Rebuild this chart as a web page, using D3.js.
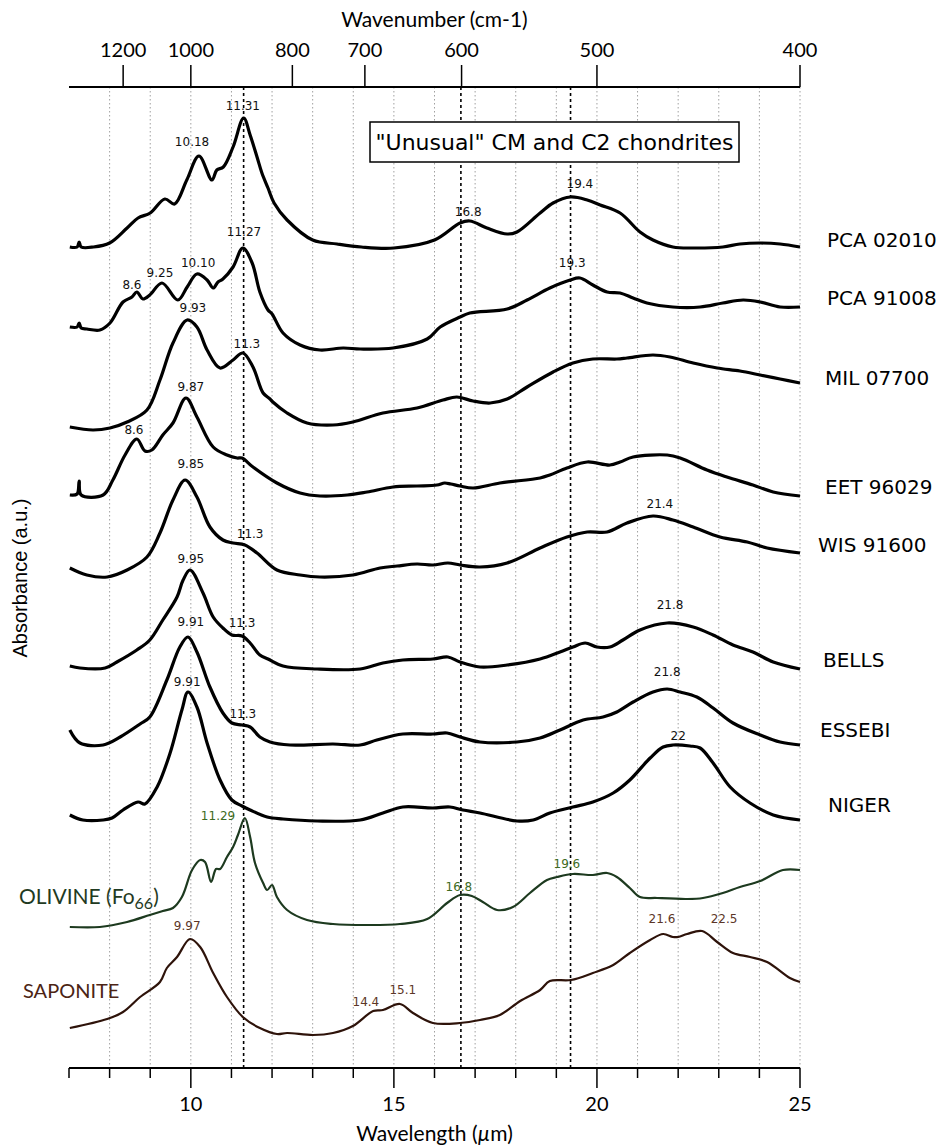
<!DOCTYPE html>
<html><head><meta charset="utf-8">
<script src="https://cdn.jsdelivr.net/npm/d3@7"></script>
<style>body{margin:0;background:#fff}</style>
</head><body>
<svg id="c" width="940" height="1148"></svg>
<script>
// ---- data: [wavelength (µm), absorbance (a.u., stacked with offsets)] ----
const pca02010 = [[7.02,82.1],[7.2,82.1],[7.25,82.6],[7.3,82.1],[7.6,82.1],[8.0,82.5],[8.43,84.0],[8.7,85.0],[9.0,85.5],[9.36,86.9],[9.6,86.4],[9.9,88.8],[10.2,91.2],[10.52,88.8],[10.64,89.8],[10.8,90.1],[11.04,92.1],[11.3,95.0],[11.46,93.3],[11.63,91.1],[11.75,89.5],[11.9,88.0],[12.05,86.5],[12.37,84.8],[13.0,82.8],[13.6,82.4],[14.2,82.1],[15.0,82.0],[16.0,82.8],[16.63,84.5],[16.87,84.7],[17.29,84.0],[17.79,83.4],[18.03,83.6],[18.6,85.5],[18.92,86.5],[19.35,87.1],[19.76,86.8],[20.08,86.3],[20.57,85.5],[21.06,83.6],[21.38,82.8],[21.87,82.1],[22.37,82.0],[23.1,82.1],[23.52,82.4],[24.02,82.5],[24.51,82.4],[25,82.1]];
const pca91008 = [[7.02,74.1],[7.2,74.1],[7.25,74.5],[7.3,74.0],[7.44,73.9],[7.76,73.8],[8.01,74.5],[8.33,76.6],[8.55,77.1],[8.67,77.6],[8.82,76.9],[8.99,77.3],[9.29,78.5],[9.68,76.8],[9.91,78.1],[10.15,79.4],[10.4,78.8],[10.55,78.0],[10.67,78.6],[10.79,78.9],[11.04,80.1],[11.28,82.0],[11.51,80.5],[11.7,77.6],[11.9,75.8],[12.0,75.4],[12.27,73.5],[12.69,72.3],[13.18,71.8],[13.75,72.0],[14.17,71.9],[14.98,72.0],[15.82,72.9],[16.14,74.1],[16.63,75.1],[16.87,75.5],[17.79,75.9],[18.28,76.8],[18.84,78.0],[19.34,78.8],[19.58,79.0],[19.9,78.3],[20.25,77.6],[20.57,77.5],[20.89,77.0],[21.23,76.5],[21.87,76.1],[22.54,76.1],[23.1,76.5],[23.6,76.8],[24.02,76.6],[24.51,76.1],[25,76.1]];
const mil07700 = [[7.02,64.1],[7.59,63.8],[8.01,64.0],[8.43,64.6],[8.92,65.8],[9.24,68.8],[9.56,72.5],[9.91,74.8],[10.15,74.1],[10.4,71.8],[10.72,70.0],[11.04,70.8],[11.28,71.5],[11.53,70.1],[11.78,67.5],[11.95,66.9],[12.02,66.6],[12.37,65.5],[12.86,64.5],[13.5,64.3],[13.99,64.6],[14.73,65.5],[15.57,66.0],[16.21,66.8],[16.55,67.1],[16.95,66.7],[17.37,66.5],[17.79,66.9],[18.28,68.1],[18.92,69.6],[19.41,70.5],[19.9,70.9],[20.49,70.9],[20.74,71.0],[21.38,71.3],[21.8,71.1],[22.37,70.5],[22.96,70.0],[23.52,69.7],[24.02,69.3],[24.51,68.9],[25,68.5]];
const eet96029 = [[7.02,57.3],[7.2,57.4],[7.25,58.7],[7.3,57.3],[7.84,57.3],[8.08,58.8],[8.38,61.3],[8.67,62.9],[8.87,61.7],[9.04,61.8],[9.31,63.3],[9.56,64.5],[9.88,67.0],[10.15,65.1],[10.55,62.1],[10.89,61.3],[11.14,61.0],[11.26,61.0],[11.53,60.1],[12.12,58.5],[12.69,57.5],[13.18,57.2],[13.85,57.3],[14.34,57.6],[14.98,58.1],[15.57,58.2],[16.06,58.3],[16.25,58.5],[16.4,58.4],[16.63,58.2],[16.95,58.0],[17.61,58.5],[18.6,59.0],[18.84,59.3],[19.26,60.0],[19.76,60.6],[20.32,60.3],[20.57,60.6],[20.89,61.1],[21.73,61.3],[22.05,61.0],[22.71,59.8],[23.2,59.1],[23.84,58.3],[24.34,57.6],[25,57.2]];
const wis91600 = [[7.02,50.0],[7.44,49.3],[7.94,49.1],[8.43,49.8],[8.92,51.1],[9.24,53.5],[9.56,56.8],[9.86,58.8],[10.15,57.1],[10.47,54.1],[10.79,52.8],[11.04,52.5],[11.33,52.3],[11.63,51.5],[12.12,49.8],[12.69,49.3],[13.18,49.1],[13.99,49.3],[14.66,50.0],[15.08,50.2],[15.57,50.4],[15.96,50.3],[16.33,50.5],[16.63,50.3],[17.12,50.1],[17.79,50.5],[18.6,52.0],[19.26,53.1],[19.76,53.6],[20.25,53.6],[20.74,54.5],[21.38,55.2],[21.87,54.8],[22.37,54.1],[23.03,53.1],[23.7,52.6],[24.19,52.0],[25,51.5]];
const bells = [[7.02,40.2],[7.27,40.0],[7.89,40.0],[8.18,40.6],[8.67,41.8],[8.99,42.8],[9.31,44.8],[9.66,47.1],[9.81,48.8],[9.98,49.8],[10.3,47.5],[10.55,45.1],[10.79,44.0],[11.01,43.3],[11.26,43.2],[11.46,42.5],[11.7,41.3],[11.9,40.9],[12.27,40.2],[13.11,39.9],[14.17,39.9],[14.73,40.5],[15.22,40.8],[15.96,40.9],[16.33,41.1],[16.63,40.6],[17.12,40.1],[17.79,40.3],[18.6,40.9],[19.09,41.6],[19.41,42.1],[19.71,42.5],[20.0,42.1],[20.32,42.1],[20.64,42.8],[21.06,43.8],[21.73,44.5],[22.37,44.1],[22.86,43.3],[23.35,42.3],[23.84,41.6],[24.34,40.6],[25,39.9]];
const essebi = [[7.02,33.8],[7.27,32.5],[7.84,32.3],[8.26,33.1],[8.75,34.4],[8.99,35.1],[9.41,38.8],[9.73,42.1],[9.93,43.1],[10.15,41.6],[10.47,38.1],[10.79,35.5],[11.01,34.5],[11.26,34.3],[11.46,34.1],[11.7,33.1],[11.95,32.6],[12.44,32.3],[13.5,32.4],[14.17,32.3],[14.58,32.8],[15.22,33.4],[15.96,33.4],[16.31,33.5],[16.63,33.1],[17.12,32.6],[18.03,32.6],[18.6,33.0],[19.09,33.8],[19.66,34.8],[20.15,35.1],[20.49,35.6],[20.89,36.6],[21.38,37.6],[21.73,37.9],[22.05,37.6],[22.46,37.1],[22.86,36.0],[23.35,34.5],[24.02,33.3],[24.51,32.6],[25,32.3]];
const niger = [[7.02,25.3],[7.34,24.8],[7.84,24.8],[8.06,25.0],[8.33,25.8],[8.7,26.6],[8.87,26.4],[9.17,28.1],[9.49,31.5],[9.78,35.8],[9.93,37.6],[10.15,36.1],[10.4,32.5],[10.72,28.8],[11.01,26.8],[11.26,26.2],[11.46,25.8],[11.88,25.1],[12.27,24.9],[13.11,24.7],[14.17,24.8],[14.73,25.5],[15.22,26.1],[15.96,26.0],[16.38,26.1],[16.7,25.8],[17.12,25.5],[18.03,24.7],[18.43,24.8],[18.84,25.5],[19.41,26.1],[19.9,26.6],[20.4,27.5],[20.81,28.8],[21.31,31.0],[21.63,32.1],[21.87,32.3],[22.29,32.2],[22.54,32.0],[22.86,30.5],[23.28,28.1],[23.77,26.5],[24.34,25.3],[25,24.8]];
const olivine = [[7.02,14.1],[7.76,14.1],[8.43,14.6],[8.99,15.3],[9.31,15.7],[9.56,16.0],[9.78,17.1],[10.03,19.8],[10.23,20.8],[10.35,20.6],[10.5,18.6],[10.62,19.9],[10.72,19.9],[10.89,21.1],[11.04,22.1],[11.16,23.3],[11.33,25.0],[11.46,23.1],[11.58,20.5],[11.78,18.5],[11.88,17.8],[12.0,18.3],[12.12,17.1],[12.37,15.8],[12.86,14.8],[13.5,14.4],[14.34,14.3],[15.15,14.4],[15.82,14.9],[16.31,16.5],[16.63,17.3],[16.92,17.2],[17.19,16.6],[17.54,15.8],[17.93,16.1],[18.35,17.5],[18.77,18.8],[19.02,19.1],[19.41,19.4],[19.9,19.3],[20.25,19.5],[20.49,19.1],[20.81,18.0],[21.06,17.1],[21.48,17.0],[22.22,16.9],[22.61,17.0],[23.1,17.5],[23.52,18.1],[24.02,18.7],[24.58,19.8],[25,19.8]];
const saponite = [[7.02,4.0],[7.94,4.9],[8.33,5.6],[8.75,7.1],[9.24,8.6],[9.41,10.0],[9.66,11.1],[9.98,12.9],[10.23,12.1],[10.55,9.5],[10.89,7.1],[11.28,5.1],[11.7,4.0],[12.12,3.4],[12.37,3.5],[13.01,3.3],[13.5,3.5],[13.99,4.2],[14.49,5.7],[14.73,5.8],[15.15,6.4],[15.47,5.5],[15.96,4.5],[16.63,4.5],[17.12,4.8],[17.61,5.3],[18.11,6.7],[18.6,7.8],[18.84,8.7],[19.36,8.8],[19.9,9.5],[20.4,10.3],[20.81,11.5],[21.31,12.8],[21.63,13.4],[21.87,13.1],[22.0,13.1],[22.22,13.4],[22.59,13.7],[22.96,12.6],[23.35,11.5],[23.77,11.1],[24.19,10.6],[24.75,9.0],[25,8.6]];

const seriesNames = ["PCA 02010","PCA 91008","MIL 07700","EET 96029","WIS 91600","BELLS","ESSEBI","NIGER"];
const meteorites = [pca02010,pca91008,mil07700,eet96029,wis91600,bells,essebi,niger];

// peak annotations: [text, wavelength, absorbance]
const blackPeaks = [["11.31",11.28,95.8],["10.18",10.03,92.2],["16.8",16.83,85.2],["19.4",19.58,88.0],
  ["11.27",11.31,83.2],["10.10",10.18,80.1],["9.25",9.24,79.1],["8.6",8.55,77.9],["19.3",19.39,80.1],
  ["9.93",10.05,75.6],["11.3",11.38,72.0],["9.87",10.0,67.7],["8.6",8.6,63.4],["9.85",10.0,60.0],
  ["11.3",11.46,53.0],["21.4",21.55,56.0],["9.95",10.0,50.5],["9.91",10.0,44.2],["11.3",11.26,44.1],
  ["21.8",21.8,45.9],["9.91",9.91,38.2],["11.3",11.28,35.0],["21.8",21.73,39.2],["22",22.0,32.8]];
const olivinePeaks = [["11.29",10.67,24.8],["16.8",16.6,17.7],["19.6",19.26,20.0]];
const saponitePeaks = [["9.97",9.91,13.8],["14.4",14.31,6.2],["15.1",15.22,7.4],["21.6",21.6,14.5],["22.5",23.13,14.5]];

const wavenumberTicks = [1200,1000,800,700,600,500,400];
const wavelengthMajor = [10,15,20,25];
const wavelengthMinor = d3.range(7,26);
const gridLines = d3.range(8,26);
const markerLines = [11.3,16.65,19.35];

// ---- layout ----
const x = d3.scaleLinear().domain([7,25]).range([69,800]);
const y = d3.scaleLinear().domain([0,98]).range([1068,88]);
const top0 = 87, bot0 = 1068;
const svg = d3.select("#c");
const labelPos = [[827,247],[827,305],[825,385],[825,494],[818,552],[823,667],[820,737],[828,812]];

// grid
svg.append("g").selectAll("line").data(gridLines).join("line")
  .attr("x1",d=>x(d)).attr("x2",d=>x(d)).attr("y1",top0).attr("y2",bot0)
  .attr("stroke","#a0a0a0").attr("stroke-width",1).attr("stroke-dasharray","1.5,2.5");

// marker dashed lines
svg.append("g").selectAll("line").data(markerLines).join("line")
  .attr("x1",d=>x(d)).attr("x2",d=>x(d)).attr("y1",top0).attr("y2",bot0)
  .attr("stroke","#000").attr("stroke-width",1.6).attr("stroke-dasharray","3,3");

// title box
const box = svg.append("g");
box.append("rect").attr("x",370).attr("y",122).attr("width",369).attr("height",40)
  .attr("fill","#fff").attr("stroke","#000").attr("stroke-width",1.5);
box.append("text").attr("x",554.5).attr("y",150).attr("text-anchor","middle")
  .attr("font-family","DejaVu Sans").attr("font-size",21).attr("textLength",358).attr("lengthAdjust","spacingAndGlyphs")
  .text("\"Unusual\" CM and C2 chondrites");

// curves
const line = d3.line().x(d=>x(d[0])).y(d=>y(d[1])).curve(d3.curveCatmullRom.alpha(0.5));
svg.append("g").selectAll("path").data(meteorites).join("path")
  .attr("d",line).attr("fill","none").attr("stroke","#000").attr("stroke-width",3.2)
  .attr("stroke-linejoin","round");
svg.append("path").datum(olivine).attr("d",line).attr("fill","none").attr("stroke","#1d3a1f").attr("stroke-width",2.2);
svg.append("path").datum(saponite).attr("d",line).attr("fill","none").attr("stroke","#2e130a").attr("stroke-width",2.2);

// peak labels
function peaks(arr,color){
  svg.append("g").selectAll("text").data(arr).join("text")
    .attr("x",d=>x(d[1])).attr("y",d=>y(d[2])).attr("text-anchor","middle")
    .attr("font-family","DejaVu Sans").attr("font-size",12).attr("fill",color).text(d=>d[0]);
}
peaks(blackPeaks,"#111");
peaks(olivinePeaks,"#3d6b22");
peaks(saponitePeaks,"#5c3627");

// series labels
svg.append("g").selectAll("text").data(seriesNames).join("text")
  .attr("x",(d,i)=>labelPos[i][0]).attr("y",(d,i)=>labelPos[i][1])
  .attr("font-family","DejaVu Sans").attr("font-size",20).attr("fill","#000").text(d=>d);

const ol = svg.append("text").attr("x",19).attr("y",904).attr("font-family","Lato").attr("font-size",21).attr("fill","#1f3a22");
ol.append("tspan").text("OLIVINE (Fo");
ol.append("tspan").attr("dy",5).attr("font-size",16).text("66");
ol.append("tspan").attr("dy",-5).text(")");
svg.append("text").attr("x",23).attr("y",998).attr("font-family","Lato").attr("font-size",20).attr("fill","#4c2414").text("SAPONITE");

// top axis (wavenumber)
const ta = svg.append("g");
ta.append("line").attr("x1",x(7)).attr("x2",x(25)).attr("y1",top0).attr("y2",top0).attr("stroke","#000").attr("stroke-width",1.8);
ta.selectAll("line.t").data(wavenumberTicks).join("line").attr("class","t")
  .attr("x1",d=>x(1e4/d)).attr("x2",d=>x(1e4/d)).attr("y1",top0).attr("y2",65).attr("stroke","#000").attr("stroke-width",1.5);
ta.selectAll("text").data(wavenumberTicks).join("text")
  .attr("x",d=>x(1e4/d)).attr("y",57).attr("text-anchor","middle")
  .attr("font-family","Lato").attr("font-size",20).text(d=>d);
svg.append("text").attr("x",434.5).attr("y",27).attr("text-anchor","middle")
  .attr("font-family","Lato").attr("font-size",21).text("Wavenumber (cm-1)");

// bottom axis (wavelength)
const ba = svg.append("g");
ba.append("line").attr("x1",x(7)).attr("x2",x(25)).attr("y1",bot0).attr("y2",bot0).attr("stroke","#000").attr("stroke-width",1.8);
ba.selectAll("line.m").data(wavelengthMinor).join("line").attr("class","m")
  .attr("x1",d=>x(d)).attr("x2",d=>x(d)).attr("y1",bot0).attr("y2",d=>wavelengthMajor.includes(d)?bot0+20:bot0+10)
  .attr("stroke","#000").attr("stroke-width",1.5);
ba.selectAll("text").data(wavelengthMajor).join("text")
  .attr("x",d=>x(d)).attr("y",1111).attr("text-anchor","middle")
  .attr("font-family","Lato").attr("font-size",20).text(d=>d);
const xt = svg.append("text").attr("x",434.5).attr("y",1141).attr("text-anchor","middle")
  .attr("font-family","Lato").attr("font-size",21);
xt.append("tspan").text("Wavelength (");
xt.append("tspan").attr("font-style","italic").text("\u00b5");
xt.append("tspan").text("m)");

// y label
svg.append("text").attr("transform","translate(27,578) rotate(-90)").attr("text-anchor","middle")
  .attr("font-family","Liberation Sans").attr("font-size",20).text("Absorbance (a.u.)");
</script>
</body></html>
